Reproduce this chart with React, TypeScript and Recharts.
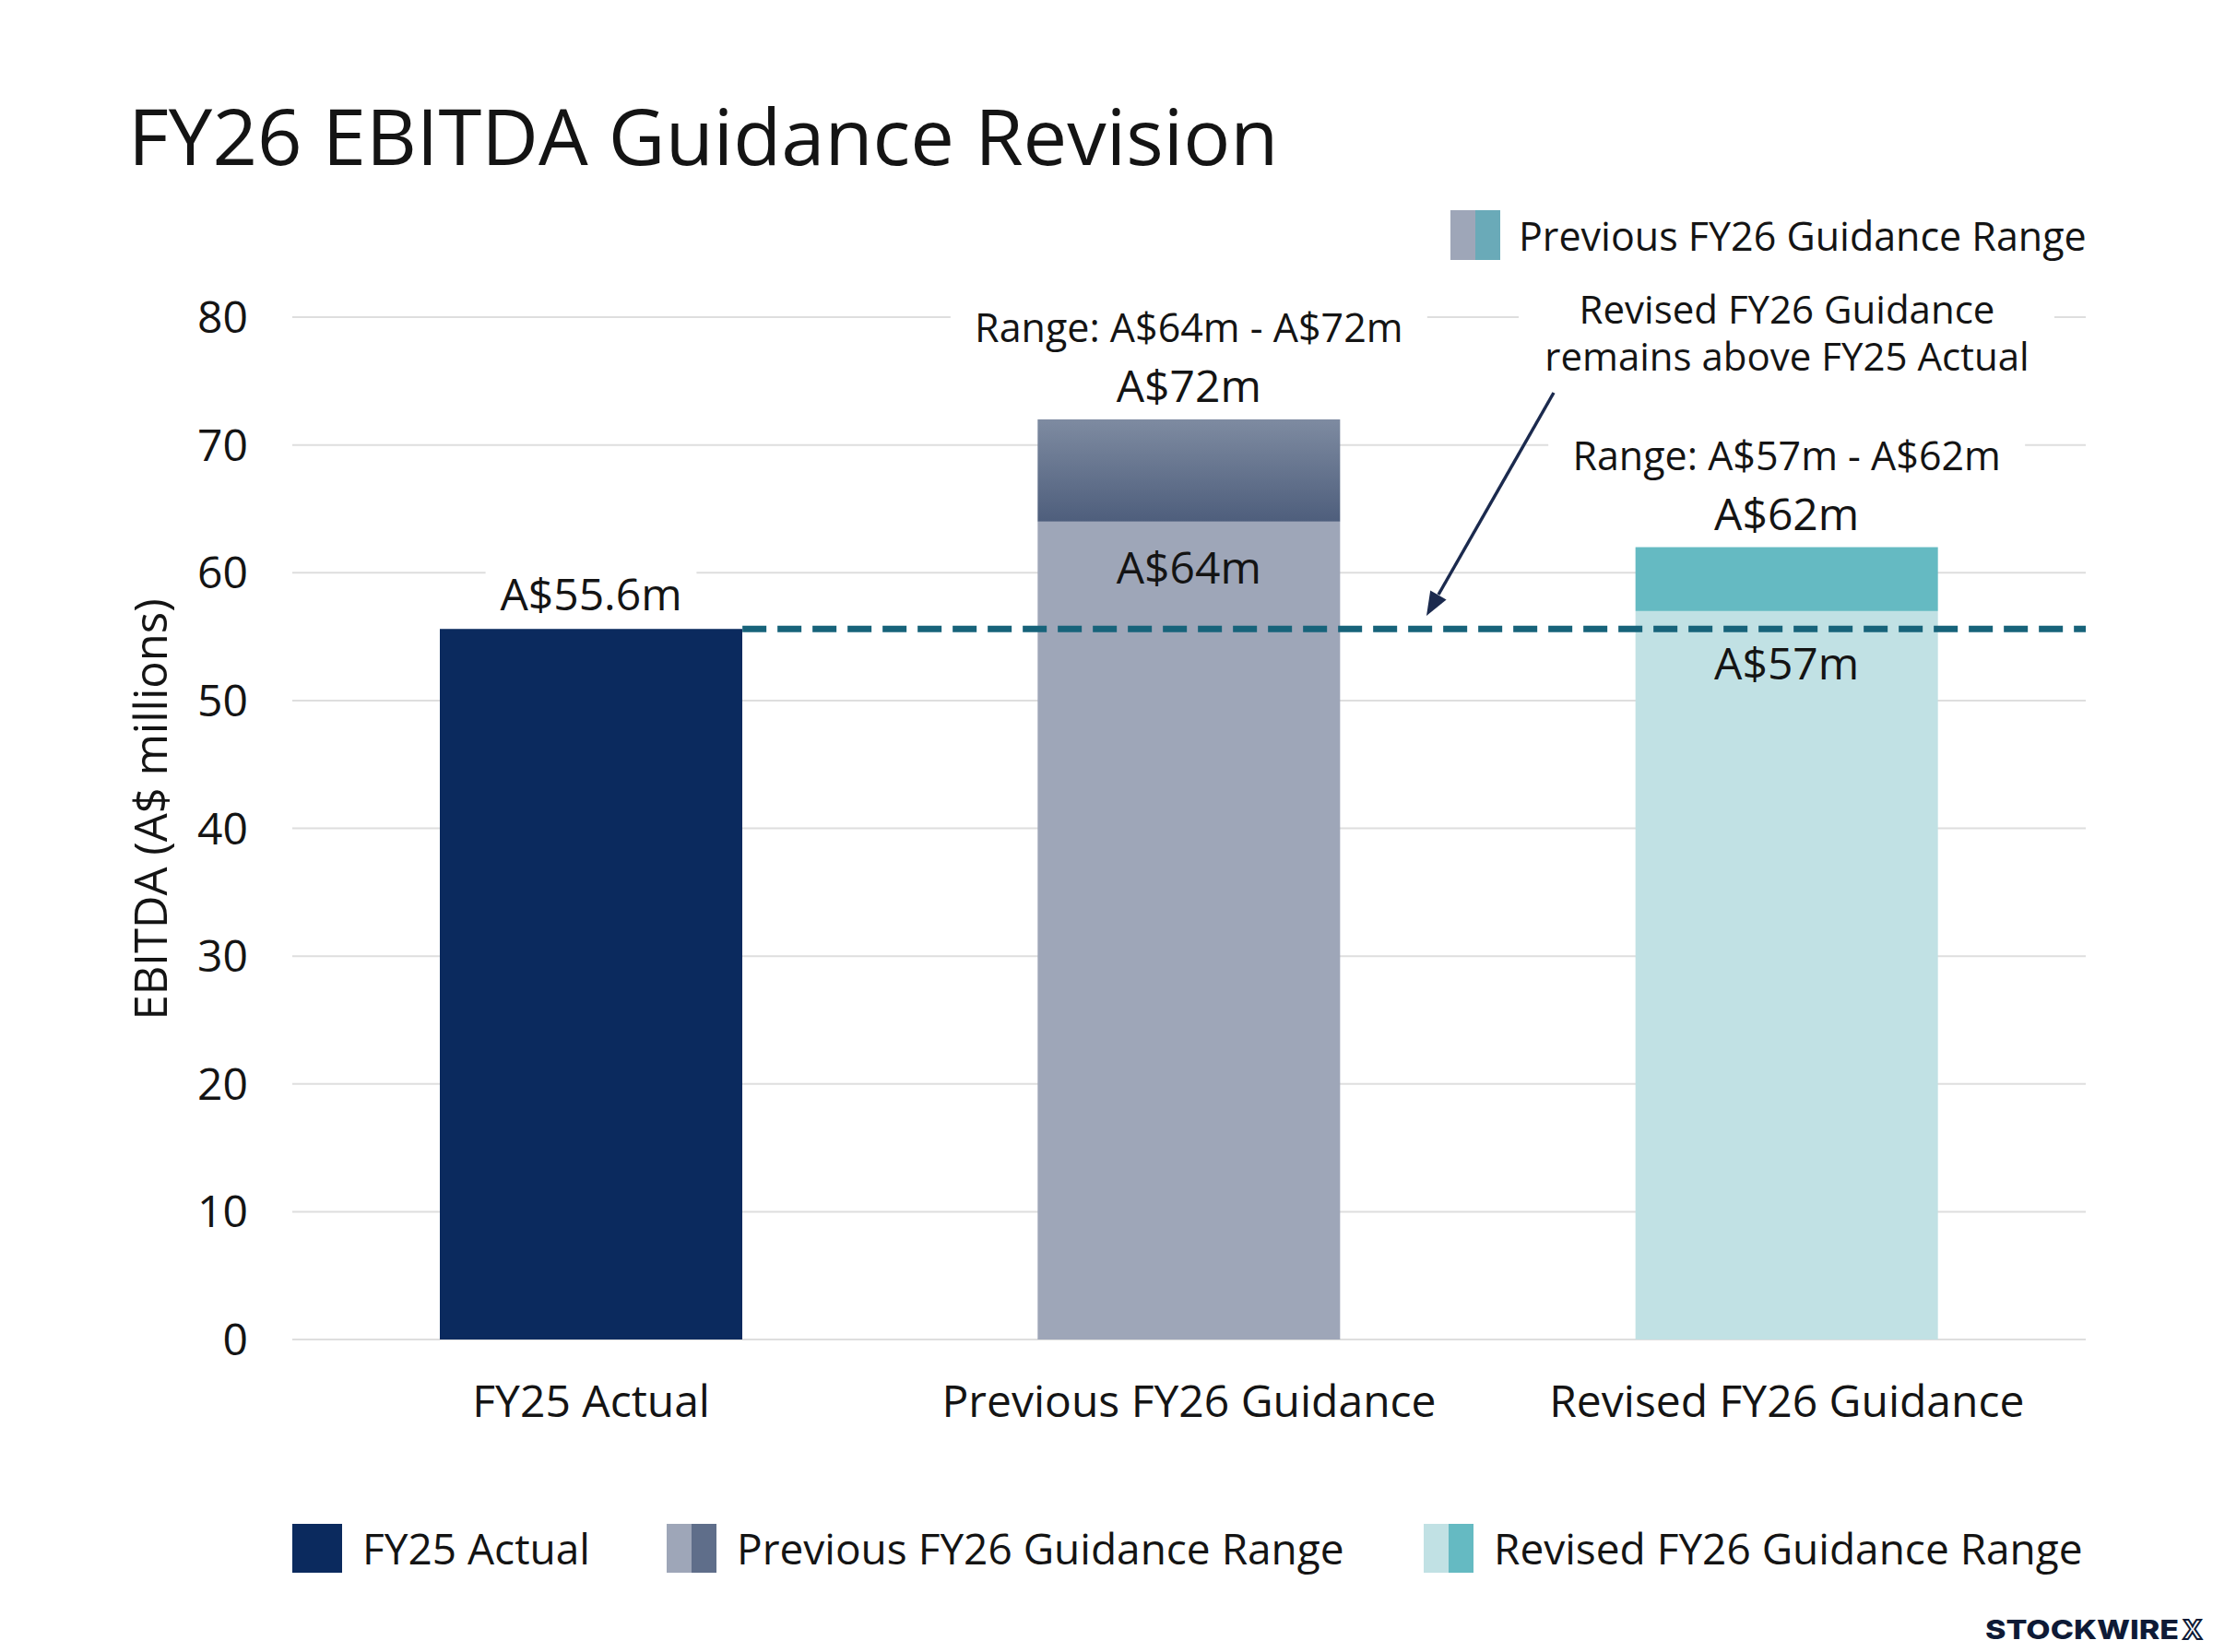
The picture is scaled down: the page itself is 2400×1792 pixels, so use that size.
import React from 'react';
import {
  ComposedChart, Bar, XAxis, YAxis, CartesianGrid, ReferenceLine
} from 'recharts';

const categories = ['FY25 Actual', 'Previous FY26 Guidance', 'Revised FY26 Guidance'];
const lowValues = [55.6, 64, 57];
const highValues = [55.6, 72, 62];
const yTicks = [0, 10, 20, 30, 40, 50, 60, 70, 80];
const legendLabels = ['FY25 Actual', 'Previous FY26 Guidance Range', 'Revised FY26 Guidance Range'];
const annotationLines = ['Revised FY26 Guidance', 'remains above FY25 Actual'];

const FONT = "'Open Sans', 'DejaVu Sans', sans-serif";
const INK = '#141414';
const BAR_SIZE = 328;

const baseColors = ['#0b2a5e', '#9ea6b8', '#c1e1e4'];
const topColors = ['#0b2a5e', 'url(#prevRange)', '#65bac2'];
const insideOffset = [0, 49, 56];

const chartData = categories.map((c, i) => ({
  category: c,
  low: lowValues[i],
  range: +(highValues[i] - lowValues[i]).toFixed(1),
}));

const fmt = (v: number) => `A$${v}m`;

const LabelBox = ({ x, y, text, size, bg = '#ffffff' }: any) => {
  const w = text.length * size * 0.55 + 44;
  return (
    <g>
      <rect x={x - w / 2} y={y - size * 0.7} width={w} height={size * 1.4} fill={bg} />
      <text x={x} y={y} textAnchor="middle" dominantBaseline="central"
        fontSize={size} fontFamily={FONT} fill={INK}>{text}</text>
    </g>
  );
};

const BaseShape = (p: any) => {
  const { x, y, width, height, payload } = p;
  const i = categories.indexOf(payload.category);
  const cx = x + width / 2;
  return (
    <g>
      <rect x={x} y={y} width={width} height={height} fill={baseColors[i]} />
      {i === 0 ? (
        <LabelBox x={cx} y={y - 39} text={fmt(lowValues[i])} size={48} />
      ) : (
        <text x={cx} y={y + insideOffset[i]} textAnchor="middle" dominantBaseline="central"
          fontSize={48} fontFamily={FONT} fill={INK}>{fmt(lowValues[i])}</text>
      )}
    </g>
  );
};

const TopShape = (p: any) => {
  const { x, y, width, height, payload } = p;
  const i = categories.indexOf(payload.category);
  if (i === 0 || !height) return <g />;
  const cx = x + width / 2;
  return (
    <g>
      <rect x={x} y={y} width={width} height={height} fill={topColors[i]} />
      <text x={cx} y={y - 37} textAnchor="middle" dominantBaseline="central"
        fontSize={48} fontFamily={FONT} fill={INK}>{fmt(highValues[i])}</text>
      <LabelBox x={cx} y={y - 100} size={43}
        text={`Range: ${fmt(lowValues[i])} - ${fmt(highValues[i])}`} />
    </g>
  );
};

const ActualLine = (p: any) => {
  const { x1, x2, y1 } = p;
  const band = (x2 - x1) / categories.length;
  const start = x1 + band / 2 + BAR_SIZE / 2;
  return (
    <line x1={start} x2={x2} y1={y1} y2={y1} stroke="#17637a"
      strokeWidth={7} strokeDasharray="26 12" />
  );
};

const Swatch = ({ x, y, w, h, left, right }: any) => (
  <g>
    <rect x={x} y={y} width={w / 2} height={h} fill={left} />
    <rect x={x + w / 2} y={y} width={w / 2} height={h} fill={right} />
  </g>
);

export default function App() {
  const legendSwatches = [
    ['#0b2a5e', '#0b2a5e'],
    ['#9ea6b8', '#5f6e8a'],
    ['#c1e1e4', '#65bac2'],
  ];
  const legendX = [317, 723, 1544];

  return (
    <div style={{ position: 'absolute', left: 0, top: 0, width: 2400, height: 1792, background: '#ffffff' }}>
      <ComposedChart width={2400} height={1792} data={chartData}
        margin={{ top: 344, right: 138, bottom: 239, left: 0 }}>
        <defs>
          <linearGradient id="prevRange" x1="0" y1="0" x2="0" y2="1">
            <stop offset="0%" stopColor="#7e8ba1" />
            <stop offset="100%" stopColor="#4e5e7c" />
          </linearGradient>
        </defs>
        <CartesianGrid horizontal vertical={false} stroke="#dedede" strokeWidth={2} />
        <XAxis dataKey="category" axisLine={false} tickLine={false} tickSize={0}
          tickMargin={50} height={100} interval={0}
          tick={{ fontSize: 48, fontFamily: FONT, fill: INK }} />
        <YAxis domain={[0, 80]} ticks={yTicks} axisLine={false} tickLine={false}
          tickSize={0} tickMargin={48} width={317}
          tick={{ fontSize: 48, fontFamily: FONT, fill: INK }} />
        <Bar dataKey="low" stackId="a" barSize={BAR_SIZE} shape={BaseShape} isAnimationActive={false} />
        <Bar dataKey="range" stackId="a" barSize={BAR_SIZE} shape={TopShape} isAnimationActive={false} />
        <ReferenceLine y={lowValues[0]} shape={ActualLine} />
      </ComposedChart>

      <svg width={2400} height={1792} style={{ position: 'absolute', left: 0, top: 0, pointerEvents: 'none' }}>
        <text x={139} y={179} fontSize={85} fontFamily={FONT} fill={INK}>FY26 EBITDA Guidance Revision</text>

        <text x={162} y={878} transform="rotate(-90, 162, 878)" textAnchor="middle"
          dominantBaseline="central" fontSize={49} fontFamily={FONT} fill={INK}>EBITDA (A$ millions)</text>

        <Swatch x={1573} y={228} w={54} h={54} left="#9ea6b8" right="#6aaab8" />
        <text x={1647} y={255} dominantBaseline="central" fontSize={43} fontFamily={FONT} fill={INK}>
          {legendLabels[1]}
        </text>

        <rect x={1647} y={300} width={581} height={118} fill="#ffffff" />
        {annotationLines.map((t, k) => (
          <text key={t} x={1938} y={334 + k * 51} textAnchor="middle" dominantBaseline="central"
            fontSize={42} fontFamily={FONT} fill={INK}>{t}</text>
        ))}
        <line x1={1685} y1={426} x2={1560} y2={645} stroke="#1b2a4e" strokeWidth={3.5} />
        <polygon points="1547,668 1568.6,650.4 1551.2,640.5" fill="#1b2a4e" />

        {legendLabels.map((t, k) => (
          <g key={t}>
            <Swatch x={legendX[k]} y={1653} w={54} h={53}
              left={legendSwatches[k][0]} right={legendSwatches[k][1]} />
            <text x={legendX[k] + 76} y={1679} dominantBaseline="central" fontSize={46}
              fontFamily={FONT} fill={INK}>{t}</text>
          </g>
        ))}

        <text x={2153} y={1778} fontSize={29} fontWeight={800} fontFamily="Inter, sans-serif"
          fill="#0e1a36" textLength={210} lengthAdjust="spacingAndGlyphs">STOCKWIRE</text>
        <text x={2367} y={1778} fontSize={29} fontWeight={700} fontFamily="Inter, sans-serif"
          fill="#ffffff" stroke="#0e1a36" strokeWidth={2}>X</text>
      </svg>
    </div>
  );
}
